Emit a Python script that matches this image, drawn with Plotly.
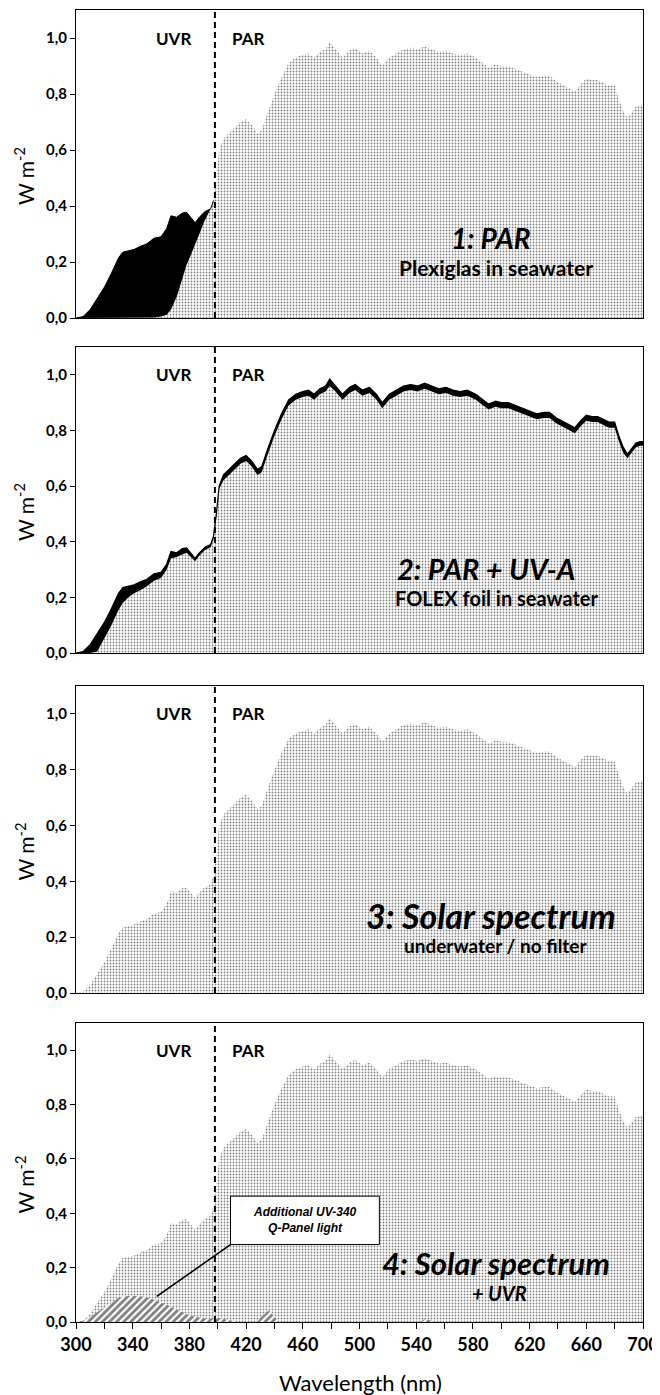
import plotly.graph_objects as go

# ---------------- data ----------------
wavelength = [300, 305, 310, 315, 320, 325, 330, 333, 337, 341, 345, 350, 355, 360, 364, 367,
              371, 375, 378, 381, 384, 387, 391, 395, 397, 399, 401, 404, 408, 412, 416, 420,
              424, 428, 431, 435, 440, 445, 450, 455, 460, 464, 468, 472, 476, 479, 483, 488,
              493, 497, 502, 507, 512, 516, 521, 526, 531, 536, 541, 546, 551, 556, 561, 566,
              571, 576, 582, 587, 591, 596, 600, 605, 610, 615, 620, 625, 630, 634, 639, 643,
              648, 652, 656, 660, 664, 668, 672, 676, 680, 683, 686, 689, 692, 695, 698, 700]

solar = [0.0, 0.005, 0.03, 0.07, 0.11, 0.16, 0.215, 0.235, 0.24, 0.245, 0.255, 0.265, 0.285, 0.29, 0.32, 0.365,
         0.36, 0.375, 0.378, 0.36, 0.34, 0.36, 0.38, 0.39, 0.42, 0.50, 0.60, 0.64, 0.66, 0.68, 0.70, 0.71,
         0.69, 0.66, 0.67, 0.73, 0.80, 0.86, 0.91, 0.93, 0.94, 0.945, 0.93, 0.95, 0.96, 0.985, 0.96, 0.93,
         0.955, 0.965, 0.945, 0.955, 0.93, 0.90, 0.93, 0.945, 0.96, 0.965, 0.96, 0.97, 0.96, 0.95, 0.955, 0.945,
         0.94, 0.945, 0.93, 0.91, 0.895, 0.905, 0.90, 0.90, 0.89, 0.88, 0.87, 0.86, 0.865, 0.865, 0.845, 0.835,
         0.82, 0.81, 0.835, 0.855, 0.85, 0.85, 0.84, 0.83, 0.83, 0.78, 0.74, 0.715, 0.735, 0.755, 0.76, 0.76]

folex = [0.0, 0.0, 0.0, 0.005, 0.05, 0.10, 0.155, 0.18, 0.20, 0.215, 0.225, 0.24, 0.26, 0.27, 0.30, 0.34,
         0.345, 0.355, 0.36, 0.345, 0.33, 0.35, 0.37, 0.38, 0.41, 0.49, 0.59, 0.62, 0.64, 0.66, 0.68, 0.69,
         0.67, 0.64, 0.65, 0.71, 0.78, 0.84, 0.89, 0.91, 0.92, 0.925, 0.91, 0.93, 0.94, 0.96, 0.94, 0.91,
         0.935, 0.945, 0.925, 0.935, 0.91, 0.88, 0.91, 0.925, 0.94, 0.945, 0.94, 0.95, 0.94, 0.93, 0.935, 0.925,
         0.92, 0.925, 0.91, 0.89, 0.875, 0.885, 0.88, 0.88, 0.87, 0.86, 0.85, 0.84, 0.845, 0.845, 0.825, 0.815,
         0.80, 0.79, 0.815, 0.835, 0.83, 0.83, 0.82, 0.81, 0.81, 0.76, 0.72, 0.70, 0.72, 0.74, 0.745, 0.745]

plexi_wl = [300, 345, 350, 355, 360, 364, 367, 371, 375, 378, 381, 384, 387, 391, 395, 397]
plexi = [0.0, 0.0, 0.001, 0.002, 0.005, 0.012, 0.03, 0.075, 0.14, 0.19, 0.225, 0.265, 0.30, 0.35, 0.39, 0.42]

uv340_wl = [300, 305, 310, 315, 320, 325, 330, 335, 340, 345, 350, 355, 360, 365, 370, 375, 380, 385,
            390, 395, 400, 405, 410, 414, 428, 431, 436, 440, 443, 540, 543, 546, 549, 552, 700]
uv340 = [0.0, 0.005, 0.018, 0.035, 0.055, 0.072, 0.088, 0.095, 0.097, 0.095, 0.09, 0.082, 0.072, 0.062,
         0.048, 0.035, 0.025, 0.018, 0.013, 0.012, 0.016, 0.01, 0.004, 0.0, 0.0, 0.02, 0.042, 0.02, 0.0,
         0.0, 0.0, 0.012, 0.008, 0.0, 0.0]

ytick_vals = [0.0, 0.2, 0.4, 0.6, 0.8, 1.0]
xtick_vals = [300, 340, 380, 420, 460, 500, 540, 580, 620, 660, 700]
uv_par_boundary = 398

panel_titles = ["1: PAR", "2: PAR + UV-A", "3: Solar spectrum", "4: Solar spectrum"]
panel_subtitles = ["Plexiglas in seawater", "FOLEX foil in seawater", "underwater / no filter", "+ UVR"]

# ---------------- figure ----------------
PAGE_OFF = 8                      # default body margin of the html page
W, H = 660 - PAGE_OFF, 1395 - PAGE_OFF
FONT = "Lato"
stipple = dict(shape=".", fgcolor="black", bgcolor="white", size=3, solidity=0.27)
hatch = dict(shape="/", fgcolor="black", bgcolor="white", size=5, solidity=0.55)


def px_x(p):
    return (p - PAGE_OFF) / W


def px_y(p):
    return 1 - (p - PAGE_OFF) / H


fig = go.Figure()

# panel pixel boxes on the page: (top, bottom)
panels_px = [(10, 318), (347, 653), (686, 993), (1023, 1322)]
x_left, x_right = 76, 643


def ax(i):
    return ("x" if i == 1 else f"x{i}"), ("y" if i == 1 else f"y{i}")


# panel 1: stipple under solar, black between solar and plexiglas in UV
xa, ya = ax(1)
fig.add_trace(go.Scatter(x=wavelength, y=solar, fill="tozeroy", mode="lines", line=dict(width=0, color="white"),
                         fillcolor="white", fillpattern=stipple, xaxis=xa, yaxis=ya, showlegend=False))
fig.add_trace(go.Scatter(x=plexi_wl, y=plexi, mode="lines", line=dict(width=0, color="black"),
                         xaxis=xa, yaxis=ya, showlegend=False))
uv_idx = [i for i, w in enumerate(wavelength) if w <= 397]
fig.add_trace(go.Scatter(x=[wavelength[i] for i in uv_idx], y=[solar[i] for i in uv_idx], fill="tonexty",
                         mode="lines", line=dict(width=1, color="black"), fillcolor="black",
                         xaxis=xa, yaxis=ya, showlegend=False))

# panel 2: stipple under folex, black band up to solar
xa, ya = ax(2)
fig.add_trace(go.Scatter(x=wavelength, y=folex, fill="tozeroy", mode="lines", line=dict(width=0, color="black"),
                         fillcolor="white", fillpattern=stipple, xaxis=xa, yaxis=ya, showlegend=False))
fig.add_trace(go.Scatter(x=wavelength, y=solar, fill="tonexty", mode="lines", line=dict(width=1.2, color="black"),
                         fillcolor="black", xaxis=xa, yaxis=ya, showlegend=False))

# panel 3
xa, ya = ax(3)
fig.add_trace(go.Scatter(x=wavelength, y=solar, fill="tozeroy", mode="lines", line=dict(width=0, color="white"),
                         fillcolor="white", fillpattern=stipple, xaxis=xa, yaxis=ya, showlegend=False))

# panel 4
xa, ya = ax(4)
fig.add_trace(go.Scatter(x=wavelength, y=solar, fill="tozeroy", mode="lines", line=dict(width=0, color="white"),
                         fillcolor="white", fillpattern=stipple, xaxis=xa, yaxis=ya, showlegend=False))
fig.add_trace(go.Scatter(x=uv340_wl, y=uv340, fill="tozeroy", mode="lines", line=dict(width=0, color="black"),
                         fillcolor="white", fillpattern=hatch, xaxis=xa, yaxis=ya, showlegend=False))

layout = dict(width=W, height=H, margin=dict(l=0, r=0, t=0, b=0, autoexpand=False), paper_bgcolor="white",
              plot_bgcolor="white", separators=",.", font=dict(family=FONT, color="black"))

shapes = []
annotations = []
for i, (top, bot) in enumerate(panels_px, start=1):
    xk = "xaxis" if i == 1 else f"xaxis{i}"
    yk = "yaxis" if i == 1 else f"yaxis{i}"
    xa, ya = ax(i)
    last = (i == 4)
    xaxis = dict(domain=[px_x(x_left), px_x(x_right)], range=[300, 700], anchor=ya, automargin=False,
                 showline=True, mirror=True, linecolor="black", linewidth=1.2,
                 showgrid=False, zeroline=False,
                 ticks="outside" if last else "", ticklen=6, tickwidth=1.2, tickcolor="black",
                 tickvals=xtick_vals if last else [], showticklabels=last,
                 tickfont=dict(family=FONT, size=18, weight="bold"), layer="above traces")
    if last:
        xaxis["minor"] = dict(ticks="outside", dtick=20, tick0=300, ticklen=6, tickwidth=1.2, tickcolor="black")
    layout[xk] = xaxis
    layout[yk] = dict(domain=[px_y(bot), px_y(top)], range=[0, 1.1], anchor=xa, automargin=False,
                      showline=True, mirror=True, linecolor="black", linewidth=1.2,
                      showgrid=False, zeroline=False, ticks="outside", ticklen=5, tickwidth=1.2,
                      tickcolor="black", tickvals=ytick_vals, tickformat=".1f",
                      tickfont=dict(family=FONT, size=15, weight="bold"), layer="above traces")
    # dashed UV/PAR boundary
    shapes.append(dict(type="line", xref=xa, yref=ya, x0=uv_par_boundary, x1=uv_par_boundary, y0=0, y1=1.1,
                       line=dict(color="black", width=2, dash="6px,4px"), layer="above"))
    annotations.append(dict(xref=xa, yref=ya, x=369, y=1.0, text="UVR", showarrow=False,
                            xanchor="center", yanchor="middle",
                            font=dict(family=FONT, size=17, weight="bold")))
    annotations.append(dict(xref=xa, yref=ya, x=421, y=1.0, text="PAR", showarrow=False,
                            xanchor="center", yanchor="middle",
                            font=dict(family=FONT, size=17, weight="bold")))
    annotations.append(dict(xref="paper", yref="paper", x=px_x(24), y=px_y((top + bot) / 2 + 12),
                            xanchor="center", yanchor="middle",
                            text="W m<sup>-2</sup>", textangle=-90, showarrow=False,
                            font=dict(family=FONT, size=21)))

title_pos = [(593, 0.286, 596, 0.182), (589, 0.305, 597, 0.197), (593, 0.279, 596, 0.171), (596, 0.217, 599, 0.107)]
title_sizes = [28, 29, 34, 31]
sub_sizes = [21, 20, 19, 20]
for i, (tx, ty, sx, sy) in enumerate(title_pos, start=1):
    xa, ya = ax(i)
    annotations.append(dict(xref=xa, yref=ya, x=tx, y=ty, text=f"<b><i>{panel_titles[i-1]}</i></b>",
                            xanchor="center", yanchor="middle",
                            showarrow=False, font=dict(family=FONT, size=title_sizes[i-1])))
    sub = panel_subtitles[i-1]
    sub_txt = f"<b><i>{sub}</i></b>" if i == 4 else f"<b>{sub}</b>"
    annotations.append(dict(xref=xa, yref=ya, x=sx, y=sy, text=sub_txt, showarrow=False,
                            xanchor="center", yanchor="middle",
                            font=dict(family=FONT, size=sub_sizes[i-1])))

# UV-340 callout box
shapes.append(dict(type="rect", xref="x4", yref="y4", x0=409, x1=514, y0=0.285, y1=0.463,
                   fillcolor="white", line=dict(color="black", width=1), layer="above"))
shapes.append(dict(type="line", xref="x4", yref="y4", x0=409, y0=0.285, x1=357, y1=0.094,
                   line=dict(color="black", width=1.6), layer="above"))
annotations.append(dict(xref="x4", yref="y4", x=461.5, y=0.374, xanchor="center", yanchor="middle",
                        text="<b><i>Additional UV-340<br>Q-Panel light</i></b>", showarrow=False,
                        font=dict(family="Liberation Sans", size=12)))

annotations.append(dict(xref="paper", yref="paper", x=px_x(360), y=px_y(1382), xanchor="center", yanchor="middle",
                        text="Wavelength (nm)", showarrow=False, font=dict(family=FONT, size=22)))

layout["shapes"] = shapes
layout["annotations"] = annotations
fig.update_layout(**layout)

fig.write_html("out.html")
